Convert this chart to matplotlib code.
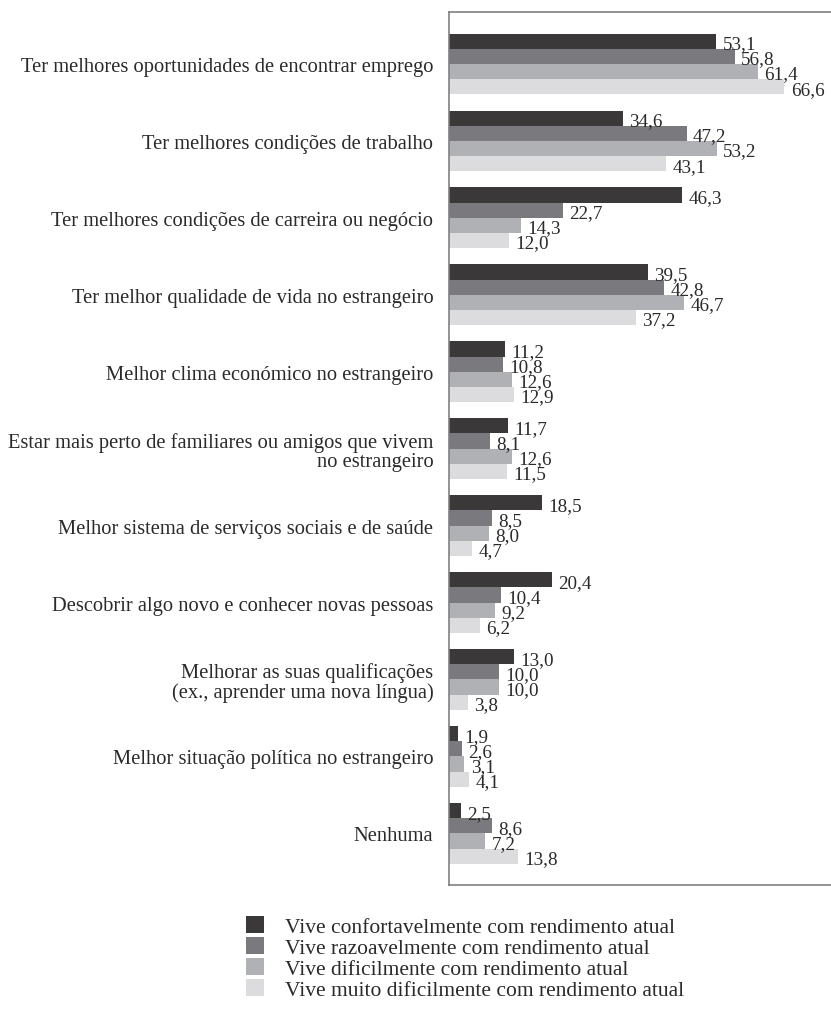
import matplotlib.pyplot as plt
from matplotlib.patches import Patch
import numpy as np

plt.rcParams['font.family'] = ['Liberation Serif', 'DejaVu Serif']

categorias = [
    "Ter melhores oportunidades de encontrar emprego",
    "Ter melhores condições de trabalho",
    "Ter melhores condições de carreira ou negócio",
    "Ter melhor qualidade de vida no estrangeiro",
    "Melhor clima económico no estrangeiro",
    "Estar mais perto de familiares ou amigos que vivem\nno estrangeiro",
    "Melhor sistema de serviços sociais e de saúde",
    "Descobrir algo novo e conhecer novas pessoas",
    "Melhorar as suas qualificações\n(ex., aprender uma nova língua)",
    "Melhor situação política no estrangeiro",
    "Nenhuma",
]

confortavel = [53.1, 34.6, 46.3, 39.5, 11.2, 11.7, 18.5, 20.4, 13.0, 1.9, 2.5]
razoavel = [56.8, 47.2, 22.7, 42.8, 10.8, 8.1, 8.5, 10.4, 10.0, 2.6, 8.6]
dificil = [61.4, 53.2, 14.3, 46.7, 12.6, 12.6, 8.0, 9.2, 10.0, 3.1, 7.2]
muito_dificil = [66.6, 43.1, 12.0, 37.2, 12.9, 11.5, 4.7, 6.2, 3.8, 4.1, 13.8]

series = [confortavel, razoavel, dificil, muito_dificil]
legendas = [
    "Vive confortavelmente com rendimento atual",
    "Vive razoavelmente com rendimento atual",
    "Vive dificilmente com rendimento atual",
    "Vive muito dificilmente com rendimento atual",
]
cores = ['#3a3839', '#7a797d', '#b0b1b4', '#dcdcde']

fig = plt.figure(figsize=(8.31, 10.12), dpi=100)
ax = fig.add_axes([0.540, 0.1245, 0.47, 0.8625])

h = 0.196
y = np.arange(len(categorias))
for k, (vals, cor) in enumerate(zip(series, cores)):
    pos = y - 1.5 * h + k * h
    ax.barh(pos, vals, height=h, color=cor, edgecolor='none')
    for p, v in zip(pos, vals):
        ax.annotate(f"{v:.1f}".replace('.', ','), (v, p), xytext=(4.5, -2),
                    textcoords='offset points', va='center', ha='left',
                    fontsize=13.8, color='#2a2a2a')

ax.set_xlim(0, 77.5)
ax.set_ylim(len(categorias) - 1 + 0.39 + 0.28, -0.39 - 0.28)
ax.set_xticks([])
ax.set_yticks(y)
ax.set_yticklabels(categorias, fontsize=14.8, color='#2a2a2a', multialignment='right',
                   linespacing=1.0)
ax.tick_params(axis='y', length=0, pad=11)
for s in ['left', 'top', 'bottom']:
    ax.spines[s].set_color('#808080')
    ax.spines[s].set_linewidth(1.2)
ax.spines['right'].set_visible(False)

handles = [Patch(facecolor=c, edgecolor='none') for c in cores]
fig.legend(handles, legendas, loc='upper left', bbox_to_anchor=(0.296, 0.094),
           frameon=False, fontsize=15.5, handlelength=0.84, handleheight=0.84,
           handletextpad=0.98, labelspacing=0.0, borderpad=0, borderaxespad=0,
           labelcolor='#2a2a2a')

fig.savefig('out.png', dpi=100)
